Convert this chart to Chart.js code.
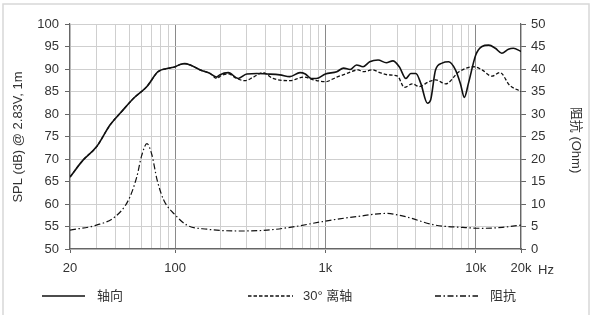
<!DOCTYPE html>
<html>
<head>
<meta charset="utf-8">
<script src="https://cdn.jsdelivr.net/npm/chart.js@4.4.1/dist/chart.umd.min.js"></script>
<style>
  html, body { margin: 0; padding: 0; background: #fff; }
  #wrap { width: 592px; height: 315px; position: relative; }
</style>
</head>
<body>
<div id="wrap"><canvas id="myChart" width="592" height="315"></canvas></div>
<script>
// 轴向 (on-axis) SPL
const onFreq = [20, 24.5, 30, 37, 44, 53, 65, 77, 92, 100, 108, 116, 126, 147, 171, 189, 198, 226, 263, 300, 349, 405, 498, 580, 678, 735, 803, 870, 1000, 1190, 1320, 1460, 1610, 1780, 1970, 2240, 2540, 2810, 3100, 3430, 3700, 4000, 4310, 4770, 5010, 5400, 5970, 6600, 7300, 7900, 8400, 8940, 10000, 11000, 12200, 13500, 14900, 16500, 17800, 20000];
const onSpl = [66, 69.8, 72.7, 77.6, 80.5, 83.5, 86.1, 89.4, 90.2, 90.5, 91.0, 91.2, 90.9, 89.8, 89.0, 88.2, 88.7, 89.2, 87.9, 88.9, 89.0, 88.9, 88.7, 88.3, 89.2, 88.9, 87.9, 87.9, 88.9, 89.4, 90.2, 89.9, 90.9, 90.5, 91.6, 92.0, 91.4, 91.8, 90.5, 87.9, 89.0, 89.0, 86.8, 82.4, 83.1, 89.8, 91.3, 91.6, 89.9, 86.8, 83.7, 86.8, 93.1, 95.0, 95.3, 94.6, 93.5, 94.4, 94.6, 93.9];

// 30° 离轴 (off-axis) SPL
const offFreq = [20, 24.5, 30, 37, 44, 53, 65, 77, 92, 100, 108, 116, 126, 147, 171, 189, 204, 226, 257, 291, 332, 384, 448, 580, 715, 830, 1000, 1190, 1390, 1650, 1780, 2060, 2300, 2600, 3020, 3350, 3790, 4200, 4890, 5420, 6300, 7740, 9700, 11000, 12800, 14500, 16800, 20000];
const offSpl = [66, 69.8, 72.7, 77.6, 80.5, 83.5, 86.1, 89.4, 90.2, 90.5, 91.0, 91.2, 90.9, 89.8, 89.0, 87.9, 88.6, 88.9, 87.9, 87.4, 88.2, 89.2, 87.9, 87.4, 88.2, 87.6, 87.2, 88.2, 89.0, 89.8, 89.4, 89.8, 89.2, 88.7, 88.4, 85.9, 86.7, 86.1, 87.2, 87.6, 86.7, 89.4, 90.5, 89.8, 88.4, 89.2, 86.4, 85.0];

// 阻抗 (impedance, Ohm)
const impFreq = [20, 30, 40, 49, 55.6, 60, 65, 70, 76, 84, 100, 120, 163, 270, 410, 580, 960, 1240, 1610, 2540, 3300, 5400, 8200, 11000, 15000, 20000];
const impOhm = [4.2, 5.3, 7.2, 10.9, 16.0, 20.8, 23.4, 21.0, 15.3, 10.9, 7.6, 5.3, 4.4, 4.0, 4.2, 4.8, 6.1, 6.7, 7.2, 7.9, 7.3, 5.3, 4.8, 4.6, 4.8, 5.3];

// axis ticks
const xGrid = [20, 30, 40, 50, 60, 70, 80, 90, 100, 200, 300, 400, 500, 600, 700, 800, 900, 1000, 2000, 3000, 4000, 5000, 6000, 7000, 8000, 9000, 10000, 20000];
const xMajor = [100, 1000, 10000];
const xLabels = { 20: '20', 100: '100', 1000: '1k', 10000: '10k', 20000: '20k' };
const legendLabels = ['轴向', '30° 离轴', '阻抗'];
const leftTitle = 'SPL (dB) @ 2.83V, 1m';
const rightTitle = '阻抗 (Ohm)';

const FONT = '"Liberation Sans", "Noto Sans CJK SC", sans-serif';
const TXT = '#333';

const pts = (xs, ys) => xs.map((x, i) => ({ x: x, y: ys[i] }));

const dashes = [[], [3.5, 2], [6, 2.5, 1.5, 2.5]];

const extras = {
  id: 'extras',
  beforeDraw(chart) {
    const c = chart.ctx;
    c.save();
    c.strokeStyle = '#d8d8d8';
    c.lineWidth = 1.5;
    c.beginPath();
    c.moveTo(3, 315); c.lineTo(3, 4); c.lineTo(589, 4); c.lineTo(589, 315);
    c.stroke();
    c.restore();
  },
  afterDraw(chart) {
    const c = chart.ctx;
    c.save();
    c.fillStyle = TXT;
    c.font = '13px ' + FONT;
    c.textBaseline = 'middle';
    // Hz unit
    c.textAlign = 'left';
    c.fillText('Hz', 538, 270);
    // axis titles
    c.save();
    c.translate(18, 137);
    c.rotate(-Math.PI / 2);
    c.textAlign = 'center';
    c.fillText(leftTitle, 0, 0);
    c.restore();
    c.save();
    c.translate(576, 140);
    c.rotate(Math.PI / 2);
    c.textAlign = 'center';
    c.fillText(rightTitle, 0, 0);
    c.restore();
    // legend
    const lx = [[42, 85, 97], [248, 293, 303], [435, 478, 490]];
    const ly = 296;
    lx.forEach((p, i) => {
      c.save();
      c.strokeStyle = '#111';
      c.lineWidth = i === 0 ? 1.6 : 1.3;
      c.setLineDash(dashes[i]);
      c.beginPath();
      c.moveTo(p[0], ly); c.lineTo(p[1], ly);
      c.stroke();
      c.restore();
      c.fillText(legendLabels[i], p[2], ly);
    });
    c.restore();
  }
};

const ctx = document.getElementById('myChart').getContext('2d');
const myChart = new Chart(ctx, {
  type: 'line',
  data: {
    datasets: [
      { label: legendLabels[0], data: pts(onFreq, onSpl), yAxisID: 'y', borderColor: '#111', borderWidth: 1.6, borderDash: dashes[0] },
      { label: legendLabels[1], data: pts(offFreq, offSpl), yAxisID: 'y', borderColor: '#111', borderWidth: 1.3, borderDash: dashes[1] },
      { label: legendLabels[2], data: pts(impFreq, impOhm), yAxisID: 'y2', borderColor: '#111', borderWidth: 1.2, borderDash: dashes[2] }
    ]
  },
  options: {
    responsive: false,
    animation: false,
    elements: {
      point: { radius: 0 },
      line: { cubicInterpolationMode: 'monotone', fill: false }
    },
    layout: { padding: { top: 24, left: 0, right: 0, bottom: 0 } },
    plugins: { legend: { display: false }, tooltip: { enabled: false } },
    scales: {
      x: {
        type: 'logarithmic',
        min: 20,
        max: 20000,
        afterBuildTicks: s => { s.ticks = xGrid.map(v => ({ value: v })); },
        afterFit: s => { s.height = 66; },
        ticks: {
          autoSkip: false,
          maxRotation: 0,
          padding: 8,
          color: TXT,
          font: { family: FONT, size: 13 },
          callback: v => xLabels[v] || ''
        },
        grid: {
          color: c => xMajor.includes(c.tick && c.tick.value) ? '#8a8a8a' : '#cfcfcf',
          tickColor: c => xLabels[c.tick && c.tick.value] ? '#666' : 'rgba(0,0,0,0)',
          tickLength: 4,
          lineWidth: 1
        },
        border: { color: '#666', width: 1.2 }
      },
      y: {
        position: 'left',
        min: 50,
        max: 100,
        afterFit: s => { s.width = 70; },
        ticks: { stepSize: 5, padding: 6, color: TXT, font: { family: FONT, size: 13 } },
        grid: { color: '#cfcfcf', tickColor: '#666', tickLength: 5 },
        border: { color: '#666', width: 1.2 }
      },
      y2: {
        position: 'right',
        min: 0,
        max: 50,
        afterFit: s => { s.width = 71; },
        ticks: { stepSize: 5, padding: 5, color: TXT, font: { family: FONT, size: 13 } },
        grid: { drawOnChartArea: false, tickColor: '#666', tickLength: 5 },
        border: { color: '#666', width: 1.2 }
      }
    }
  },
  plugins: [extras]
});
</script>
</body>
</html>
